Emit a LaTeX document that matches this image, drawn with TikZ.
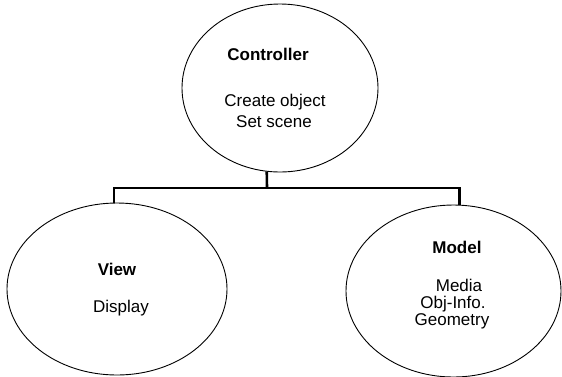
\documentclass[tikz,border=0pt]{standalone}
\usepackage{fontspec}
\setmainfont{Liberation Sans}
\usetikzlibrary{shapes.geometric}
\begin{document}
\begin{tikzpicture}[x=1pt,y=-1pt,
  part/.style={draw, ellipse, line width=0.9pt, inner sep=0pt},
  title/.style={anchor=base, font=\fontsize{17}{17}\selectfont\bfseries, inner sep=0pt},
  item/.style={anchor=base, font=\fontsize{17}{17}\selectfont, inner sep=0pt},
  bus/.style={line width=2.6pt}]
\useasboundingbox (0,0) rectangle (562,376);

% the three components
\node[part, minimum width=196pt, minimum height=168pt] (ctrl) at (280,88) {};
\node[part, minimum width=220pt, minimum height=172pt] (view) at (117,289) {};
\node[part, minimum width=215pt, minimum height=172pt] (model) at (453.5,291) {};

% labels
\node[title] (ctrlT) at (268,60) {Controller};
\node[item] (ctrlA) at (275,106) {Create object};
\node[item] (ctrlB) at (274,127) {Set scene};

\node[title] (viewT) at (117,275) {View};
\node[item] (viewA) at (121,312) {Display};

\node[title] (modelT) at (457,253) {Model};
\node[item] (modelA) at (459,291) {Media};
\node[item] (modelB) at (453,308) {Obj-Info.};
\node[item] (modelC) at (452,325) {Geometry};

% tree connector
\coordinate (tee) at (267,188);
\draw[bus] (ctrl.261) -- (tee);
\draw[bus, line join=miter] (view.92) |- (tee) -| (model.86);
\end{tikzpicture}
\end{document}
